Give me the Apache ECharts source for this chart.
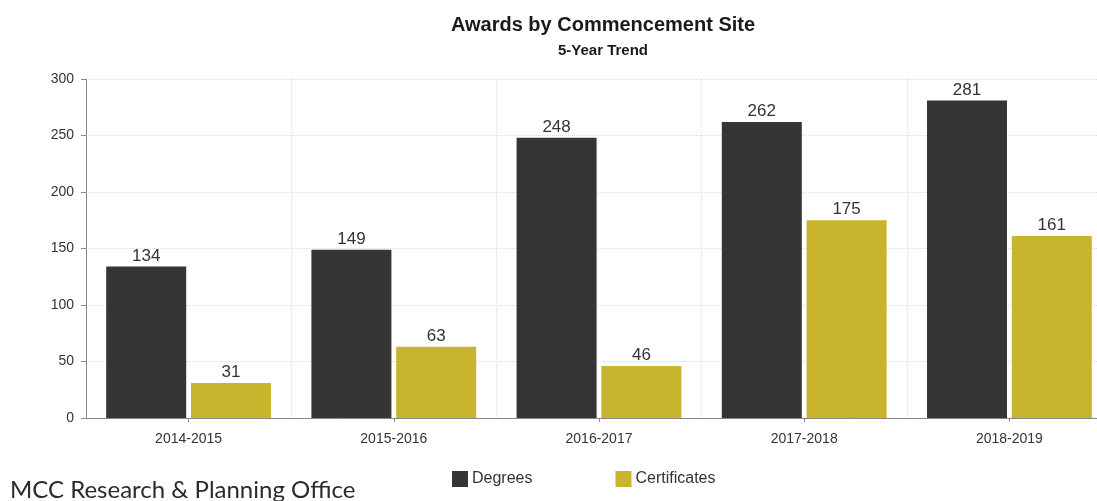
<!DOCTYPE html>
<html>
<head>
<meta charset="utf-8">
<script src="https://cdn.jsdelivr.net/npm/echarts@6/dist/echarts.min.js"></script>
<style>
html,body{margin:0;padding:0;background:#fff;overflow:hidden;}
#c{width:1116px;height:501px;}
</style>
</head>
<body>
<div id="c"></div>
<script>
const categories = ['2014-2015','2015-2016','2016-2017','2017-2018','2018-2019'];
const degrees = [134,149,248,262,281];
const certificates = [31,63,46,175,161];
const seriesNames = ['Degrees','Certificates'];
const yTicks = {min:0, max:300, interval:50};

const chart = echarts.init(document.getElementById('c'));
const font = 'Liberation Sans, Arial, sans-serif';
chart.setOption({
  animation:false,
  backgroundColor:'#fff',
  title:{
    text:'Awards by Commencement Site',
    subtext:'5-Year Trend',
    left:598, textAlign:'center', top:10,
    itemGap:8,
    textStyle:{fontFamily:font,fontSize:20,fontWeight:'bold',color:'#1a1a1a'},
    subtextStyle:{fontFamily:font,fontSize:15,fontWeight:'bold',color:'#1a1a1a'}
  },
  legend:{
    data:seriesNames,
    left:447, top:466,
    icon:'rect', itemWidth:16, itemHeight:16, itemGap:83,
    textStyle:{fontFamily:font,fontSize:16,color:'#333',padding:[0,0,0,-1]}
  },
  grid:{left:86, top:79, height:339, right:4, containLabel:false},
  xAxis:{
    type:'category', data:categories,
    axisLine:{lineStyle:{color:'#888',width:1}},
    axisTick:{show:true, alignWithLabel:true, length:4, lineStyle:{color:'#888'}},
    axisLabel:{fontFamily:font,fontSize:14,color:'#333',margin:14},
    splitLine:{show:true, lineStyle:{color:'#ddd',type:'dotted'}}
  },
  yAxis:{
    type:'value', min:yTicks.min, max:yTicks.max, interval:yTicks.interval,
    axisLine:{show:true, lineStyle:{color:'#888'}},
    axisTick:{show:true, length:5, lineStyle:{color:'#888'}},
    axisLabel:{fontFamily:font,fontSize:14,color:'#333',margin:12},
    splitLine:{show:true, lineStyle:{color:'#ddd',type:'dotted'}}
  },
  series:[
    {name:seriesNames[0], type:'bar', data:degrees, barWidth:80, barGap:'6%',
     itemStyle:{color:'#363535'},
     label:{show:true, position:'top', distance:2, fontFamily:font, fontSize:17, color:'#333'}},
    {name:seriesNames[1], type:'bar', data:certificates, barWidth:80, barGap:'6%',
     itemStyle:{color:'#c9b42e'},
     label:{show:true, position:'top', distance:2, fontFamily:font, fontSize:17, color:'#333'}}
  ],
  graphic:[{
    type:'text', left:10, top:478,
    style:{text:'MCC Research & Planning Office', font:'24px Lato, "Open Sans", sans-serif', fill:'#2b2b2b'}
  }]
});
</script>
</body>
</html>
